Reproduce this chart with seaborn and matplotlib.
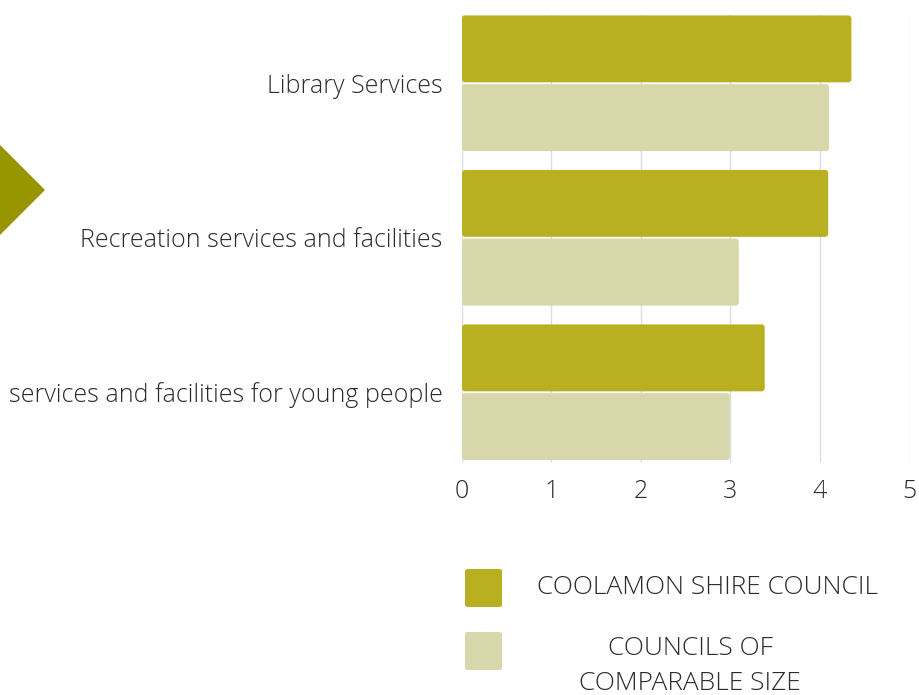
import matplotlib
matplotlib.use("Agg")
import matplotlib.pyplot as plt
import seaborn as sns
import pandas as pd
from matplotlib.patches import FancyBboxPatch, Polygon

categories = ["Library Services", "Recreation services and facilities",
              "services and facilities for young people"]
series_names = ["COOLAMON SHIRE COUNCIL", "COUNCILS OF\nCOMPARABLE SIZE"]
coolamon = [4.36, 4.10, 3.39]
comparable = [4.11, 3.10, 3.00]
x_ticks = [0, 1, 2, 3, 4, 5]

colors = ["#B8B020", "#D8D6AB"]

sns.set_theme(style="white")
plt.rcParams["font.family"] = ["Open Sans", "DejaVu Sans"]

df = pd.DataFrame({
    "category": categories * 2,
    "series": [series_names[0]] * 3 + [series_names[1]] * 3,
    "value": coolamon + comparable,
})

W, H = 920, 695
fig = plt.figure(figsize=(W / 100, H / 100), dpi=100)
top_px, bot_px = 6, 469.5
ax = fig.add_axes([462 / W, 1 - bot_px / H, (909 - 462) / W, (bot_px - top_px) / H])

sns.barplot(data=df, y="category", x="value", hue="series", orient="h",
            palette=colors, width=0.89, ax=ax, legend=False,
            edgecolor="white", linewidth=1, saturation=1, zorder=2)

# round the bar corners
old = list(ax.patches)
for p in old:
    x0, y0 = p.get_x(), p.get_y()
    w, h = p.get_width(), p.get_height()
    fc = p.get_facecolor()
    p.remove()
    r = 0.035
    fb = FancyBboxPatch((x0, y0 + 0.006), w - 0.004, h - 0.012,
                        boxstyle=f"round,pad=0,rounding_size={r}",
                        mutation_aspect=89.4 / 154.5,
                        facecolor=fc, edgecolor="none", zorder=2)
    ax.add_patch(fb)

ax.set_xlim(0, 5)
ax.set_ylim(2.5, -0.5)
ax.set_xticks(x_ticks)
ax.set_xticklabels([str(t) for t in x_ticks])
ax.vlines(x_ticks, -0.45, 2.45, color="#DDDDDD", linewidth=1, zorder=0)
ax.grid(False)
for s in ax.spines.values():
    s.set_visible(False)
ax.set_xlabel("")
ax.set_ylabel("")
ax.tick_params(axis="both", length=0, colors="#333333", labelsize=18)
ax.tick_params(axis="y", pad=14)
ax.tick_params(axis="x", pad=7)
for lab in ax.get_xticklabels() + ax.get_yticklabels():
    lab.set_fontweight("light")
    lab.set_color("#2b2b2b")

# decorative arrow at left
arrow = Polygon([[-45 / W, 1 - 190 / H], [0, 1 - 145 / H], [45 / W, 1 - 190 / H],
                 [0, 1 - 235 / H]], closed=True, transform=fig.transFigure,
                facecolor="#989600", edgecolor="none")
fig.patches.append(arrow)

# legend
leg_items = [(569, 587, 708, series_names[0]), (632, 666, 690, series_names[1])]
for (ytop, ytext, xtext, label), c in zip(leg_items, colors):
    box = FancyBboxPatch((465 / W, 1 - (ytop + 38) / H), 37 / W, 38 / H,
                         boxstyle="round,pad=0,rounding_size=0.003",
                         transform=fig.transFigure, facecolor=c, edgecolor="none")
    fig.patches.append(box)
    fig.text(xtext / W, 1 - ytext / H, label, ha="center", va="center",
             fontsize=19, fontweight="light", color="#2b2b2b",
             linespacing=1.5)

fig.savefig("out.png", dpi=100)
